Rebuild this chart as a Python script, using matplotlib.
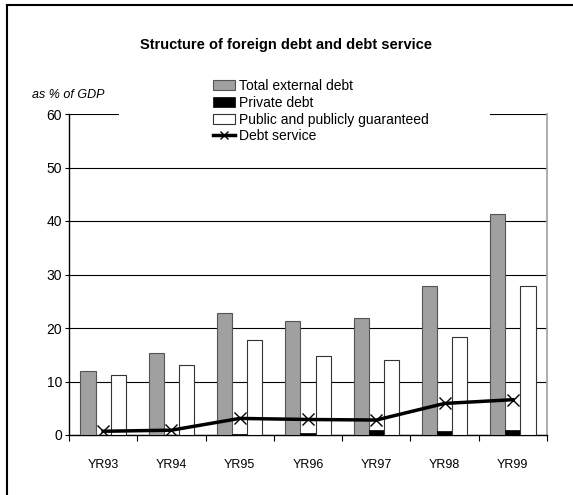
import matplotlib
matplotlib.use("Agg")
import matplotlib.pyplot as plt
import numpy as np
from matplotlib.lines import Line2D
from matplotlib.patches import Rectangle

plt.rcParams["font.family"] = ["Liberation Sans", "DejaVu Sans"]

years         = ["YR93", "YR94", "YR95", "YR96", "YR97", "YR98", "YR99"]
total_debt    = [11.9, 15.3, 22.8, 21.3, 21.8, 27.8, 41.3]
private_debt  = [0.05, 0.05, 0.25, 0.4, 0.85, 0.75, 0.9]
public_debt   = [11.2, 13.0, 17.7, 14.8, 14.0, 18.3, 27.9]
debt_service  = [0.7, 0.9, 3.1, 2.9, 2.8, 5.9, 6.6]

W, H = 573, 495
fig = plt.figure(figsize=(W / 100, H / 100), dpi=100)
ax = fig.add_axes([69 / W, 1 - 435 / H, (547 - 69) / W, (435 - 114) / H])

x = np.arange(len(years))
bw = 0.222
b1 = ax.bar(x - bw, total_debt, bw, color="#a0a0a0", edgecolor="#555555",
            linewidth=0.8, label="Total external debt", zorder=3)
b2 = ax.bar(x, private_debt, bw, color="black", edgecolor="black",
            linewidth=0.5, label="Private debt", zorder=3)
b3 = ax.bar(x + bw, public_debt, bw, color="white", edgecolor="#333333",
            linewidth=0.8, label="Public and publicly guaranteed", zorder=3)
ax.plot(x, debt_service, color="black", lw=2.5, marker="x", ms=8, mew=1,
        zorder=4)
# legend proxy for the line, with a smaller marker as in the original
ln = Line2D([], [], color="black", lw=2.5, marker="x", ms=6, mew=1)

ax.set_xlim(-0.5, len(years) - 0.5)
ax.set_ylim(0, 60)
ax.set_yticks(range(0, 61, 10))
ax.yaxis.grid(True, color="black", lw=0.8, zorder=0)
ax.set_axisbelow(True)
ax.tick_params(axis="y", direction="out", length=3, width=0.8, labelsize=10, pad=2)

ax.set_xticks(x)
ax.set_xticklabels(years)
ax.set_xticks(np.arange(-0.5, len(years)), minor=True)
ax.tick_params(axis="x", which="major", length=0, labelsize=9, pad=17)
ax.tick_params(axis="x", which="minor", direction="out", length=4, width=0.8)

ax.spines["top"].set_visible(False)
ax.spines["right"].set_color("#a0a0a0")
ax.spines["right"].set_linewidth(1.2)
ax.spines["left"].set_linewidth(1.0)
ax.spines["bottom"].set_linewidth(1.0)

# white area behind the legend that hides part of the top gridline
fig.patches.append(Rectangle((119 / W, 1 - 145 / H), (490 - 119) / W, 75 / H,
                             transform=fig.transFigure, facecolor="white",
                             edgecolor="none", zorder=5))

leg = fig.legend([b1, b2, b3, ln],
                 ["Total external debt", "Private debt",
                  "Public and publicly guaranteed", "Debt service"],
                 loc="upper left", bbox_to_anchor=(213 / W, 1 - 79 / H),
                 frameon=False, fontsize=10, borderpad=0, handlelength=1.6,
                 handleheight=0.7, handletextpad=0.3, labelspacing=0.2,
                 borderaxespad=0)
leg.set_zorder(6)

fig.text(286 / W, 1 - 45 / H, "Structure of foreign debt and debt service",
         ha="center", va="center", fontsize=10.5, fontweight="bold")
fig.text(32 / W, 1 - 95 / H, "as % of GDP", ha="left", va="center",
         fontsize=9, style="italic")

# outer frame (only left and top edges visible)
fig.add_artist(Line2D([7 / W, 7 / W], [0, 1 - 5 / H], color="black", lw=1.5,
                      transform=fig.transFigure))
fig.add_artist(Line2D([7 / W, 1], [1 - 5 / H, 1 - 5 / H], color="black", lw=1.5,
                      transform=fig.transFigure))

fig.savefig("out.png", dpi=100)
